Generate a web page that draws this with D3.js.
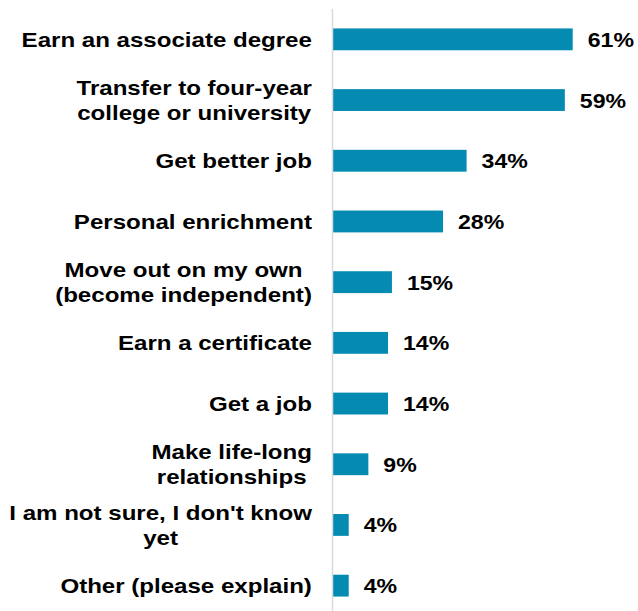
<!DOCTYPE html>
<html>
<head>
<meta charset="utf-8">
<script src="https://cdn.jsdelivr.net/npm/d3@7"></script>
<style>
  html, body { margin: 0; padding: 0; background: #ffffff; }
  svg { display: block; }
  text { font-family: "Liberation Sans", Arial, sans-serif; font-weight: bold; fill: #000; }
</style>
</head>
<body>
<svg id="chart" width="638" height="611"></svg>
<script>
// Reasons for enrolling, share of respondents (%)
const categories = [
  ["Earn an associate degree"],
  ["Transfer to four-year", "college or university"],
  ["Get better job"],
  ["Personal enrichment"],
  ["Move out on my own", "(become independent)"],
  ["Earn a certificate"],
  ["Get a job"],
  ["Make life-long", "relationships"],
  ["I am not sure, I don't know", "yet"],
  ["Other (please explain)"]
];
const values = [61, 59, 34, 28, 15, 14, 14, 9, 4, 4];
const valueLabels = ["61%", "59%", "34%", "28%", "15%", "14%", "14%", "9%", "4%", "4%"];

const svg = d3.select("#chart");
const axisX = 333;
const labelRight = 312;
const fontSize = 21;
const lineHeight = 25;
const catStretch = 1.147;   // wide-set label lettering
const valStretch = 1.1;

const ids = d3.range(values.length);

const y = d3.scaleBand()
  .domain(ids)
  .range([9, 616])
  .paddingInner(0.64)
  .paddingOuter(0.32);

const x = d3.scaleLinear()
  .domain([0, 61])
  .range([axisX, 572.7]);

// Bars
svg.append("g")
  .selectAll("rect")
  .data(ids)
  .join("rect")
  .attr("x", x(0))
  .attr("y", i => y(i))
  .attr("width", i => x(values[i]) - x(0))
  .attr("height", y.bandwidth())
  .attr("fill", "#058bb2");

// Vertical category axis line
svg.append("line")
  .attr("x1", axisX - 0.5).attr("x2", axisX - 0.5)
  .attr("y1", 9).attr("y2", 611)
  .attr("stroke", "#d9d9d9")
  .attr("stroke-width", 1.5);

// Value labels
svg.append("g")
  .selectAll("text")
  .data(ids)
  .join("text")
  .attr("transform", i =>
    `translate(${x(values[i]) + 15},${y(i) + y.bandwidth() / 2 + 7.5}) scale(${valStretch},1)`)
  .attr("font-size", fontSize)
  .text(i => valueLabels[i]);

// Category labels: each block is centre-aligned internally, right-aligned to the axis
const labelG = svg.append("g");
ids.forEach(i => {
  const lines = categories[i];
  const cy = y(i) + y.bandwidth() / 2;
  const g = labelG.append("g");
  const texts = lines.map((ln, k) =>
    g.append("text")
      .attr("font-size", fontSize)
      .attr("text-anchor", "middle")
      .text(ln)
  );
  const maxW = d3.max(texts, t => t.node().getComputedTextLength()) * catStretch;
  texts.forEach((t, k) => {
    const ty = cy + 7.3 + (k - (lines.length - 1) / 2) * lineHeight;
    t.attr("transform", `translate(${labelRight - maxW / 2},${ty}) scale(${catStretch},1)`);
  });
});
</script>
</body>
</html>
